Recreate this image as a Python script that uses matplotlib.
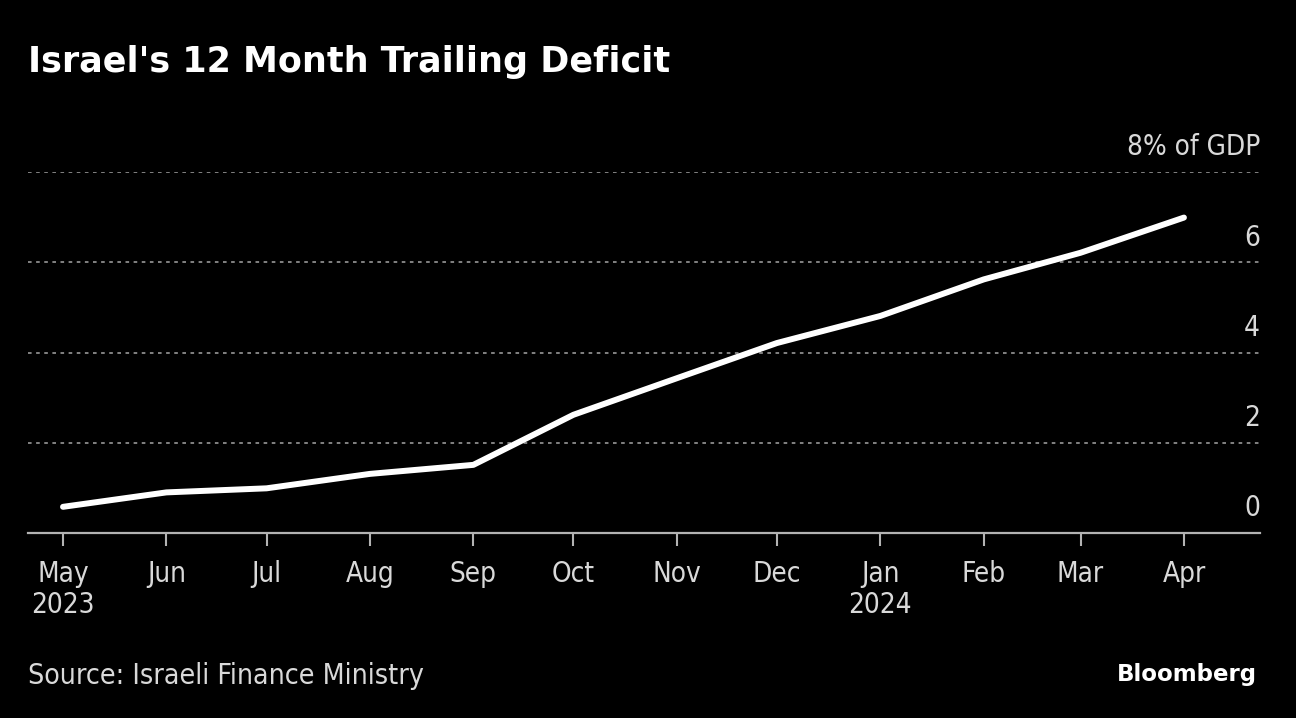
import matplotlib
matplotlib.use("Agg")
import matplotlib.pyplot as plt
import matplotlib.dates as mdates
from datetime import date

months = ["2023-05-01", "2023-06-01", "2023-07-01", "2023-08-01", "2023-09-01", "2023-10-01",
          "2023-11-01", "2023-12-01", "2024-01-01", "2024-02-01", "2024-03-01", "2024-04-01"]
deficit = [0.58, 0.90, 0.99, 1.31, 1.51, 2.62, 3.43, 4.21, 4.81, 5.62, 6.21, 6.99]
tick_labels = ["May\n2023", "Jun", "Jul", "Aug", "Sep", "Oct", "Nov", "Dec",
               "Jan\n2024", "Feb", "Mar", "Apr"]
y_ticks = [0, 2, 4, 6, 8]
y_labels = ["0", "2", "4", "6", "8% of GDP"]

dates = [date.fromisoformat(m) for m in months]
xnum = mdates.date2num(dates)

BG = "black"
LIGHT = "#d9d9d9"
GRID = "#8c8c8c"
FS = 20

fig = plt.figure(figsize=(12.96, 7.18), dpi=100, facecolor=BG)
ax = fig.add_axes([28 / 1296, 1 - 533 / 718, (1260 - 28) / 1296, (533 - 172) / 718])
ax.set_facecolor(BG)

ax.plot(xnum, deficit, color="white", lw=4.3, solid_capstyle="round", solid_joinstyle="round", zorder=3)

ax.set_xlim(xnum[0] - 10.5, xnum[-1] + 22.8)
ax.set_ylim(0, 8)

# dotted gridlines (no line at zero, the axis spine sits there)
for v in y_ticks[1:]:
    ax.axhline(v, color=GRID, lw=1.3, ls=(0, (2, 2.5)), zorder=1)

# value labels sit above each gridline, right aligned
for v, lab in zip(y_ticks, y_labels):
    ax.annotate(lab, xy=(1, v), xycoords=("axes fraction", "data"), xytext=(0, 12),
                textcoords="offset points", ha="right", va="baseline",
                color=LIGHT, fontsize=FS, fontstretch="condensed")

for s in ["top", "right", "left"]:
    ax.spines[s].set_visible(False)
ax.spines["bottom"].set_color("#b3b3b3")
ax.spines["bottom"].set_linewidth(1.6)
ax.set_yticks([])
ax.set_xticks(xnum)
ax.set_xticklabels(tick_labels, linespacing=1.15)
ax.tick_params(axis="x", length=9, width=1.5, color="#b3b3b3", pad=10.5,
               labelcolor=LIGHT, labelsize=FS)
for t in ax.get_xticklabels():
    t.set_fontstretch("condensed")

fig.text(28 / 1296, 1 - 62 / 718, "Israel's 12 Month Trailing Deficit", color="white",
         fontsize=25.2, fontweight="bold", va="center", ha="left")
fig.text(28 / 1296, 1 - 676 / 718, "Source: Israeli Finance Ministry", color=LIGHT,
         fontsize=20.4, fontstretch="condensed", va="center", ha="left")
fig.text(1257 / 1296, 1 - 674 / 718, "Bloomberg", color="white",
         fontsize=16.5, fontweight="bold", va="center", ha="right")

fig.savefig("out.png", dpi=100, facecolor=BG)
